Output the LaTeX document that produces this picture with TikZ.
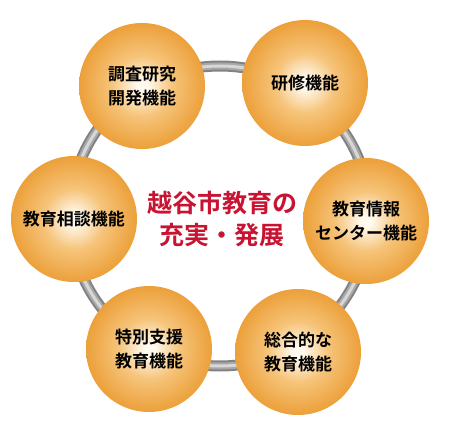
\documentclass[tikz,border=0pt]{standalone}
\usepackage{fontspec}
\newfontfamily\jp{Noto Sans CJK JP}[BoldFont={* Bold}]
\definecolor{ballin}{RGB}{255,250,240}
\definecolor{ballmid}{RGB}{246,196,122}
\definecolor{ballout}{RGB}{236,160,58}
\definecolor{ringdark}{RGB}{130,130,130}
\definecolor{ringmid}{RGB}{168,168,168}
\definecolor{ringlight}{RGB}{215,215,215}
\definecolor{titlered}{RGB}{200,20,50}
\pgfdeclareradialshading{ballshade}{\pgfpoint{0bp}{0bp}}{color(0bp)=(ballin); color(2bp)=(ballin); color(12bp)=(ballmid); color(25bp)=(ballout); color(50bp)=(ballout)}
\tikzset{
  ball/.style={circle, minimum size=126pt, inner sep=0pt, shading=ballshade, align=center,
    font=\jp\bfseries\fontsize{17}{24}\selectfont, text=black},
  title/.style={align=center, font=\jp\bfseries\fontsize{25}{32}\selectfont, text=titlered}
}
\begin{document}
\begin{tikzpicture}[x=1pt,y=-1pt]
\useasboundingbox (0,0) rectangle (450,433);
\coordinate (ringc) at (220,216);
\draw[ringdark, line width=11pt] (ringc) circle (150);
\draw[ringmid, line width=7pt] (ringc) circle (150);
\draw[ringlight, line width=3pt] (ringc) circle (150);
\node[ball] (chosa) at (142,86) {調査研究\\開発機能};
\node[ball] (kenshu) at (305,83) {研修機能};
\node[ball] (soudan) at (74,219) {教育相談機能};
\node[ball] (joho) at (366,221) {教育情報\\センター機能};
\node[ball] (tokubetsu) at (149,349) {特別支援\\教育機能};
\node[ball] (sogo) at (298,352) {総合的な\\教育機能};
\node[title] (center) at (222,219) {越谷市教育の\\充実・発展};
\end{tikzpicture}
\end{document}
